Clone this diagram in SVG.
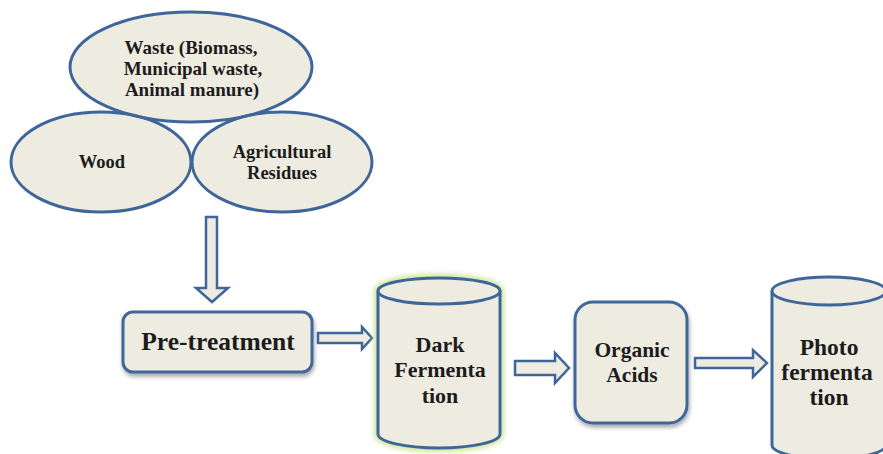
<svg xmlns="http://www.w3.org/2000/svg" width="883" height="454" viewBox="0 0 883 454">
  <defs>
    <style>
      .shape { fill: #eeece1; stroke: #3f669a; stroke-width: 3; }
      .bg { fill: #eeece1; stroke: none; }
      .outline { fill: none; stroke: #3f669a; stroke-width: 3; }
      .arrow { fill: #eeece1; stroke: #3f669a; stroke-width: 2.5; stroke-linejoin: miter; }
      .lbl { font-family: "Liberation Serif", "DejaVu Serif", serif; font-weight: bold; fill: #1c1c1c; text-anchor: middle; }
    </style>
    <filter id="shadow" x="-20%" y="-20%" width="140%" height="150%">
      <feGaussianBlur in="SourceAlpha" stdDeviation="2"/>
      <feOffset dx="1" dy="3" result="b"/>
      <feComponentTransfer><feFuncA type="linear" slope="0.35"/></feComponentTransfer>
      <feMerge><feMergeNode/><feMergeNode in="SourceGraphic"/></feMerge>
    </filter>
    <filter id="glow" x="-20%" y="-20%" width="140%" height="140%">
      <feGaussianBlur stdDeviation="2.5"/>
    </filter>
  </defs>
  <rect width="883" height="454" fill="#ffffff"/>

  <g id="ellipse-fills">
    <ellipse class="bg" cx="101" cy="162" rx="90" ry="50"/>
    <ellipse class="bg" cx="282" cy="162" rx="90" ry="50"/>
    <ellipse class="bg" cx="191" cy="67" rx="121" ry="55"/>
  </g>

  <g id="wood">
    <ellipse class="outline" cx="101" cy="162" rx="90" ry="50"/>
    <text class="lbl" x="102" y="168" font-size="18.5">Wood</text>
  </g>
  <g id="agri">
    <ellipse class="outline" cx="282" cy="162" rx="90" ry="50"/>
    <text class="lbl" x="282" y="158" font-size="18.5">Agricultural</text>
    <text class="lbl" x="282" y="179" font-size="18.5">Residues</text>
  </g>
  <g id="waste">
    <ellipse class="outline" cx="191" cy="67" rx="121" ry="55"/>
    <text class="lbl" x="191" y="54" font-size="19">Waste (Biomass,</text>
    <text class="lbl" x="193" y="75" font-size="19">Municipal waste,</text>
    <text class="lbl" x="192" y="96" font-size="19">Animal manure)</text>
  </g>

  <g id="connectors">
    <polygon class="arrow" points="206,217 217,217 217,288 228,288 212,302 196,288 206,288"/>
    <polygon class="arrow" points="318,333 362,333 362,327 372,338 362,349 362,343 318,343"/>
    <polygon class="arrow" points="515,361 555,361 555,353 569,368 555,383 555,375 515,375"/>
    <polygon class="arrow" points="695,358 753,358 753,350 767,363 753,377 753,368 695,368"/>
  </g>

  <g id="pretreatment">
    <rect class="shape" x="123" y="312" width="189" height="60" rx="10" filter="url(#shadow)"/>
    <text class="lbl" x="218" y="350" font-size="25.5">Pre-treatment</text>
  </g>

  <g id="dark">
    <path d="M378,291 L378,434 A61,14 0 0 0 500,434 L500,291 A61,13 0 0 0 378,291 Z" fill="none" stroke="#cfe59a" stroke-width="8" filter="url(#glow)"/>
    <path class="shape" d="M378,291 L378,434 A61,14 0 0 0 500,434 L500,291"/>
    <ellipse class="shape" cx="439" cy="291" rx="61" ry="13"/>
    <text class="lbl" x="440" y="352" font-size="22">Dark</text>
    <text class="lbl" x="440" y="377" font-size="22">Fermenta</text>
    <text class="lbl" x="440" y="403" font-size="22">tion</text>
  </g>

  <g id="organic">
    <rect class="shape" x="575" y="302" width="112" height="121" rx="18" filter="url(#shadow)"/>
    <text class="lbl" x="632" y="357" font-size="21.5">Organic</text>
    <text class="lbl" x="632" y="382" font-size="21.5">Acids</text>
  </g>

  <g id="photo">
    <path class="shape" d="M772,291 L772,445 A57,14 0 0 0 886,445 L886,291"/>
    <ellipse class="shape" cx="829" cy="291" rx="57" ry="14"/>
    <text class="lbl" x="829" y="355" font-size="23.5">Photo</text>
    <text class="lbl" x="827" y="380" font-size="23.5">fermenta</text>
    <text class="lbl" x="829" y="405" font-size="23.5">tion</text>
  </g>
</svg>
